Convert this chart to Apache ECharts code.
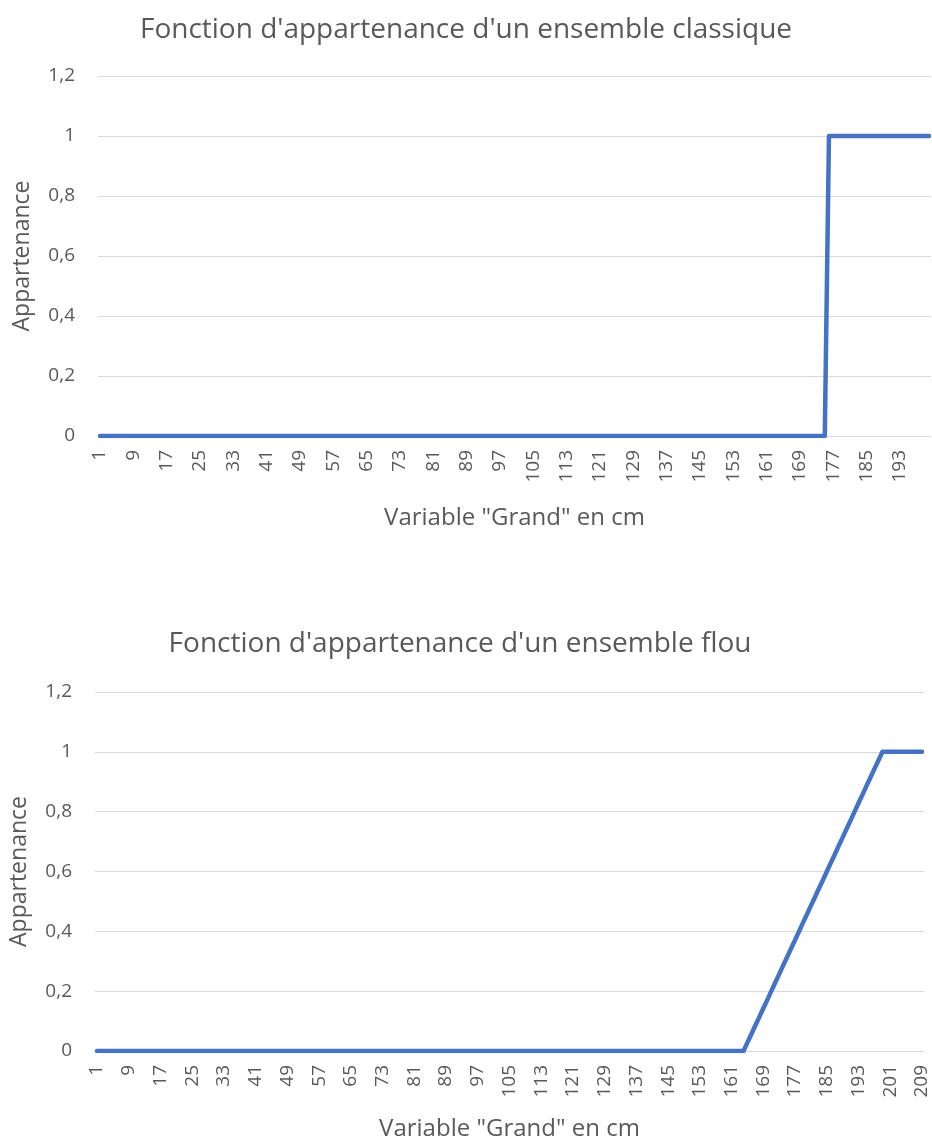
<!DOCTYPE html>
<html>
<head>
<meta charset="utf-8">
<script src="https://cdn.jsdelivr.net/npm/echarts@6/dist/echarts.min.js"></script>
<style>
html,body{margin:0;padding:0;background:#fff;}
#chart{width:932px;height:1142px;}
</style>
</head>
<body>
<div id="chart"></div>
<script>
// Categories (height in cm, 1..209)
var categoriesFlou = [1,2,3,4,5,6,7,8,9,10,11,12,13,14,15,16,17,18,19,20,21,22,23,24,25,26,27,28,29,30,31,32,33,34,35,36,37,38,39,40,41,42,43,44,45,46,47,48,49,50,51,52,53,54,55,56,57,58,59,60,61,62,63,64,65,66,67,68,69,70,71,72,73,74,75,76,77,78,79,80,81,82,83,84,85,86,87,88,89,90,91,92,93,94,95,96,97,98,99,100,101,102,103,104,105,106,107,108,109,110,111,112,113,114,115,116,117,118,119,120,121,122,123,124,125,126,127,128,129,130,131,132,133,134,135,136,137,138,139,140,141,142,143,144,145,146,147,148,149,150,151,152,153,154,155,156,157,158,159,160,161,162,163,164,165,166,167,168,169,170,171,172,173,174,175,176,177,178,179,180,181,182,183,184,185,186,187,188,189,190,191,192,193,194,195,196,197,198,199,200,201,202,203,204,205,206,207,208,209];
var categoriesClassique = categoriesFlou.slice(0, 200);

// Crisp set: 0 up to 175, 1 from 176 to 200
var valuesClassique = [
0,0,0,0,0,0,0,0,0,0,0,0,0,0,0,0,0,0,0,0,0,0,0,0,0,
0,0,0,0,0,0,0,0,0,0,0,0,0,0,0,0,0,0,0,0,0,0,0,0,0,
0,0,0,0,0,0,0,0,0,0,0,0,0,0,0,0,0,0,0,0,0,0,0,0,0,
0,0,0,0,0,0,0,0,0,0,0,0,0,0,0,0,0,0,0,0,0,0,0,0,0,
0,0,0,0,0,0,0,0,0,0,0,0,0,0,0,0,0,0,0,0,0,0,0,0,0,
0,0,0,0,0,0,0,0,0,0,0,0,0,0,0,0,0,0,0,0,0,0,0,0,0,
0,0,0,0,0,0,0,0,0,0,0,0,0,0,0,0,0,0,0,0,0,0,0,0,0,
1,1,1,1,1,1,1,1,1,1,1,1,1,1,1,1,1,1,1,1,1,1,1,1,1
];

// Fuzzy set: 0 up to 164, ramp to 1 at 199, 1 until 209
var valuesFlou = [
0,0,0,0,0,0,0,0,0,0,0,0,0,0,0,0,0,0,0,0,
0,0,0,0,0,0,0,0,0,0,0,0,0,0,0,0,0,0,0,0,
0,0,0,0,0,0,0,0,0,0,0,0,0,0,0,0,0,0,0,0,
0,0,0,0,0,0,0,0,0,0,0,0,0,0,0,0,0,0,0,0,
0,0,0,0,0,0,0,0,0,0,0,0,0,0,0,0,0,0,0,0,
0,0,0,0,0,0,0,0,0,0,0,0,0,0,0,0,0,0,0,0,
0,0,0,0,0,0,0,0,0,0,0,0,0,0,0,0,0,0,0,0,
0,0,0,0,0,0,0,0,0,0,0,0,0,0,0,0,0,0,0,0,
0,0,0,0,
0.029,0.057,0.086,0.114,0.143,0.171,0.2,0.229,0.257,0.286,
0.314,0.343,0.371,0.4,0.429,0.457,0.486,0.514,0.543,0.571,
0.6,0.629,0.657,0.686,0.714,0.743,0.771,0.8,0.829,0.857,
0.886,0.914,0.943,0.971,
1,1,1,1,1,1,1,1,1,1,1
];

var titleClassique = "Fonction d'appartenance d'un ensemble classique";
var titleFlou = "Fonction d'appartenance d'un ensemble flou";
var xName = 'Variable "Grand" en cm';
var yName = 'Appartenance';

var FONT = '"Open Sans", "Noto Sans", sans-serif';
var TXT = '#595959';
var BLUE = '#4472C4';
var GRIDC = '#d9d9d9';

function yAxisCfg(gridIndex) {
  return {
    gridIndex: gridIndex,
    type: 'value', min: 0, max: 1.2, interval: 0.2,
    name: yName, nameLocation: 'middle', nameGap: 64,
    nameTextStyle: {color: TXT, fontSize: 23, fontFamily: FONT},
    axisLine: {show: false}, axisTick: {show: false},
    axisLabel: {
      color: TXT, fontSize: 19, fontFamily: FONT, margin: 23,
      formatter: function (v) { return String(Math.round(v * 10) / 10).replace('.', ','); }
    },
    splitLine: {show: true, lineStyle: {color: GRIDC, width: 1}}
  };
}
function xAxisCfg(gridIndex, cats, gap) {
  return {
    gridIndex: gridIndex,
    type: 'category', data: cats, boundaryGap: true,
    name: xName, nameLocation: 'middle', nameGap: gap,
    nameTextStyle: {color: TXT, fontSize: 24, fontFamily: FONT},
    axisLine: {show: false}, axisTick: {show: false},
    axisLabel: {color: TXT, fontSize: 19, fontFamily: FONT, rotate: 90, interval: 7, margin: 14, hideOverlap: false}
  };
}
function lineSeries(idx, data) {
  return {
    type: 'line', xAxisIndex: idx, yAxisIndex: idx, data: data,
    showSymbol: false, symbol: 'none', animation: false,
    lineStyle: {color: BLUE, width: 4.5, cap: 'round', join: 'round'}
  };
}

var chart = echarts.init(document.getElementById('chart'), null, {renderer: 'canvas'});
chart.setOption({
  animation: false,
  backgroundColor: '#ffffff',
  title: [
    {text: titleClassique, left: 466, top: 16, textAlign: 'center', padding: 0,
     textStyle: {color: TXT, fontSize: 28, fontWeight: 'normal', fontFamily: FONT}},
    {text: titleFlou, left: 460, top: 630, textAlign: 'center', padding: 0,
     textStyle: {color: TXT, fontSize: 28, fontWeight: 'normal', fontFamily: FONT}}
  ],
  grid: [
    {left: 98, top: 76, width: 833, height: 360},
    {left: 92, top: 692, width: 832, height: 359}
  ],
  xAxis: [xAxisCfg(0, categoriesClassique, 70), xAxisCfg(1, categoriesFlou, 66)],
  yAxis: [yAxisCfg(0), yAxisCfg(1)],
  series: [lineSeries(0, valuesClassique), lineSeries(1, valuesFlou)]
});
</script>
</body>
</html>
